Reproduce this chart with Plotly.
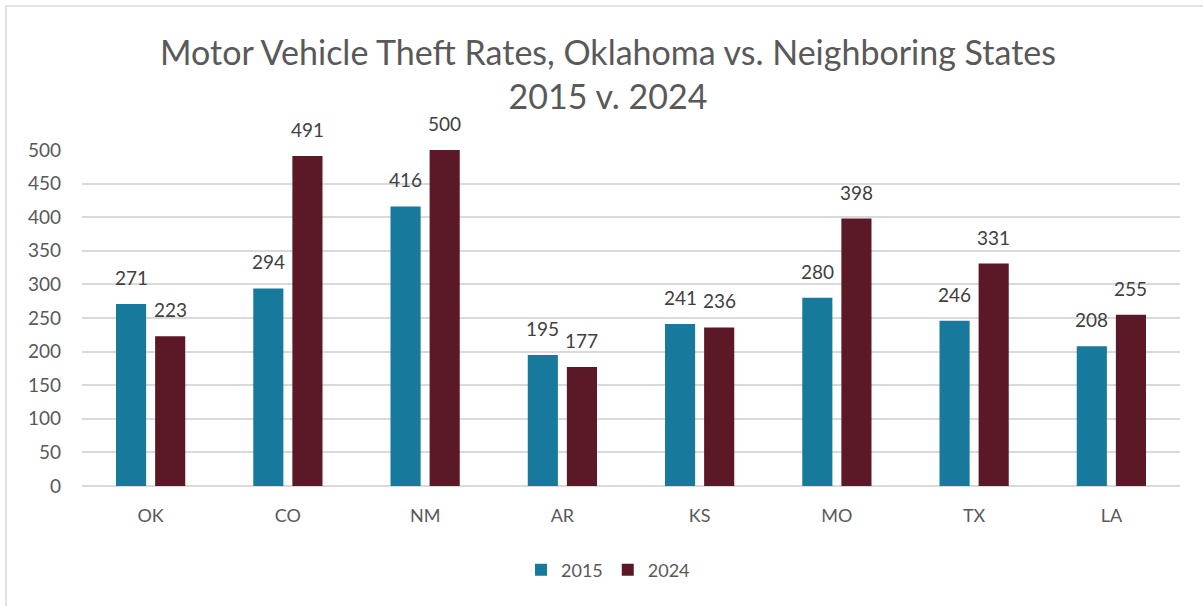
import plotly.graph_objects as go

states = ["OK", "CO", "NM", "AR", "KS", "MO", "TX", "LA"]
rates_2015 = [271, 294, 416, 195, 241, 280, 246, 208]
rates_2024 = [223, 491, 500, 177, 236, 398, 331, 255]
y_ticks = [0, 50, 100, 150, 200, 250, 300, 350, 400, 450, 500]

FONT = "Lato, Open Sans, sans-serif"
L, R, T, B = 82, 23, 150, 120
PW, PH = 1203 - L - R, 606 - T - B
BARGAP, GROUPGAP = 0.43, 0.23

fig = go.Figure()
series = [("2015", rates_2015, "#177a9c"), ("2024", rates_2024, "#5b1826")]
for name, vals, col in series:
    fig.add_trace(go.Bar(
        x=states, y=vals, name=name,
        marker=dict(color=col, line=dict(width=0)),
        cliponaxis=False,
    ))

# data labels as annotations, shifted to each bar's slot in the group
slot_px = PW / len(states) * (1 - BARGAP) / 2
for i, (name, vals, col) in enumerate(series):
    xs = (i - 0.5) * slot_px
    for s, v in zip(states, vals):
        fig.add_annotation(x=s, y=v, text=str(v), showarrow=False,
                           xanchor="center", yanchor="bottom", xshift=xs, yshift=13,
                           font=dict(size=19, color="#404040", family=FONT))

fig.update_layout(
    width=1203, height=606, autosize=False,
    paper_bgcolor="white", plot_bgcolor="white",
    margin=dict(l=L, r=R, t=T, b=B, autoexpand=False),
    barmode="group", bargap=BARGAP, bargroupgap=GROUPGAP,
    font=dict(family=FONT, color="#595959", size=18),
    title=dict(
        text="Motor Vehicle Theft Rates, Oklahoma vs. Neighboring States<br>2015 v. 2024",
        x=608 / 1203, xref="container", xanchor="center",
        y=1 - 65 / 606, yref="container", yanchor="middle",
        font=dict(size=34, color="#595959", family=FONT),
    ),
    xaxis=dict(showgrid=False, showline=False, ticks="", tickfont=dict(size=18, color="#595959"),
               ticklabelstandoff=17),
    yaxis=dict(range=[0, 500], tickvals=y_ticks, showgrid=True, gridcolor="#d9d9d9", gridwidth=1.5,
               zeroline=True, zerolinecolor="#d9d9d9", zerolinewidth=1.5,
               tickfont=dict(size=19, color="#595959"), ticks="", ticklabelstandoff=20),
    legend=dict(orientation="h", x=(608 - L) / PW, xanchor="center",
                y=-(570 - 486) / PH, yanchor="middle",
                font=dict(size=18, color="#595959"), traceorder="normal"),
    showlegend=True,
)

fig.add_shape(type="rect", xref="paper", yref="paper",
              x0=(6 - L) / PW, x1=(1215 - L) / PW,
              y0=-(620 - 486) / PH, y1=(486 - 6) / PH,
              line=dict(color="#d9d9d9", width=1.5), fillcolor="rgba(0,0,0,0)", layer="below")

fig.write_html("out.html")
